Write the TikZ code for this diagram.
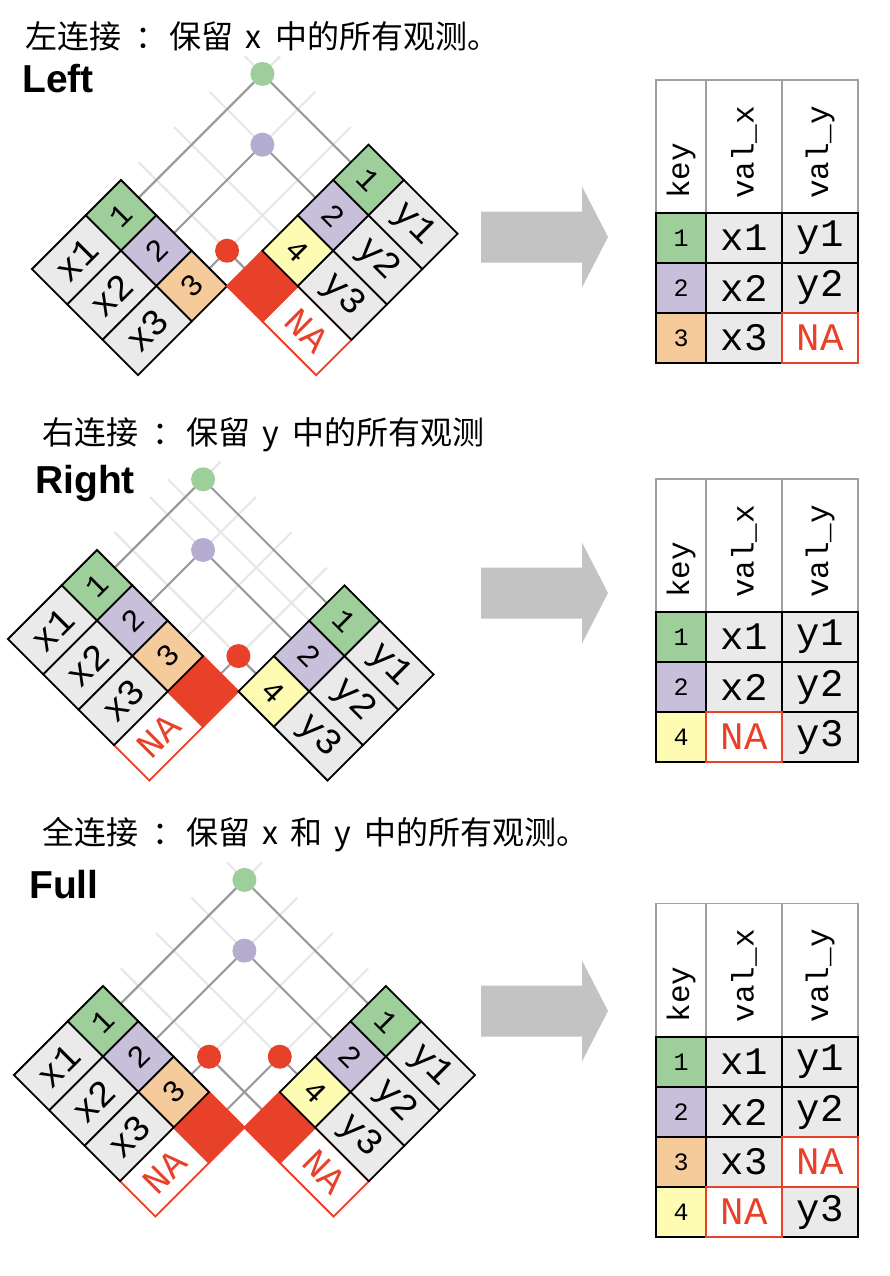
\documentclass[tikz,border=0pt]{standalone}
\usepackage{fontspec}
\newfontfamily\monof{Liberation Mono}
\newfontfamily\cjkf{Noto Sans CJK SC}
\newfontfamily\helv{Liberation Sans}
\usetikzlibrary{calc}
\pgfdeclarelayer{background}
\pgfdeclarelayer{bottom}
\pgfsetlayers{bottom,background,main}
\definecolor{cgreen}{HTML}{9ECE9A}
\definecolor{cpurple}{HTML}{C8BFDB}
\definecolor{dpurple}{HTML}{B5ADD0}
\definecolor{corange}{HTML}{F6CB9B}
\definecolor{cyellow}{HTML}{FEFBB3}
\definecolor{cred}{HTML}{E8412A}
\definecolor{cgray}{HTML}{EAEAEA}
\definecolor{linedark}{HTML}{999999}
\definecolor{linelight}{HTML}{E6E6E6}
\definecolor{arrowgray}{HTML}{C3C3C3}
\definecolor{headgray}{HTML}{A0A0A0}
\tikzset{
  dcell/.style={draw=black, line width=1.8pt, minimum height=50pt, inner sep=0pt, outer sep=0pt},
  xk/.style={dcell, rotate=45, minimum width=50pt, font=\monof\fontsize{31}{31}\selectfont},
  xv/.style={dcell, rotate=45, minimum width=76pt, fill=cgray, font=\monof\fontsize{37}{37}\selectfont},
  yk/.style={dcell, rotate=-45, minimum width=50pt, font=\monof\fontsize{31}{31}\selectfont},
  yv/.style={dcell, rotate=-45, minimum width=76pt, fill=cgray, font=\monof\fontsize{37}{37}\selectfont},
  nakey/.style={fill=cred, draw=cred},
  naval/.style={fill=white, draw=cred, text=cred},
  jdot/.style={circle, inner sep=0pt, outer sep=0pt, minimum size=24pt},
  gline/.style={draw=linelight, line width=2pt},
  mline/.style={draw=linedark, line width=2pt},
  tk/.style={dcell, minimum width=50pt, font=\monof\fontsize{25}{25}\selectfont},
  tv/.style={dcell, minimum width=76pt, fill=cgray, font=\monof\fontsize{39}{39}\selectfont},
  th/.style={draw=headgray, line width=1.5pt, fill=white, minimum height=133pt, inner sep=0pt, outer sep=0pt},
  htext/.style={rotate=90, anchor=west, inner sep=0pt, font=\monof\fontsize{31}{31}\selectfont},
  ttl/.style={anchor=base west, inner sep=0pt, font=\cjkf\fontsize{32}{32}\selectfont},
  lbl/.style={anchor=base west, inner sep=0pt, font=\helv\bfseries\fontsize{39}{39}\selectfont},
  diag/.style={x={(35.355pt,-35.355pt)}, y={(-35.355pt,-35.355pt)}}
}
\newcommand\jarrow[1]{\fill[arrowgray] (481,#1-25.5) -- (582,#1-25.5) -- (582,#1-50.5) -- (608,#1) -- (582,#1+50.5) -- (582,#1+25.5) -- (481,#1+25.5) -- cycle;}
\newcommand\jhead[2]{%
  \node[th,minimum width=50pt] (#1h0) at (681,#2) {};
  \node[th,minimum width=76pt] (#1h1) at (744,#2) {};
  \node[th,minimum width=76pt] (#1h2) at (820,#2) {};
  \node[htext] (#1t0) at ($(#1h0.south)+(0,-14)$) {key};
  \node[htext] (#1t1) at ($(#1h1.south)+(0,-14)$) {val\_x};
  \node[htext] (#1t2) at ($(#1h2.south)+(0,-14)$) {val\_y};
}
\begin{document}
\begin{tikzpicture}[x=1pt,y=-1pt]
\useasboundingbox (0,0) rectangle (890,1276);
\begin{pgfonlayer}{bottom}
  \fill[white] (0,0) rectangle (890,1276);
\end{pgfonlayer}

% ---------- titles ----------
\node[ttl] (title1) at (25,49) {左连接\hspace{14pt}：\hspace{2pt}保留\hspace{12pt}x\hspace{14pt}中的所有观测。};
\node[lbl] (lab1) at (22,93) {Left};
\node[ttl] (title2) at (42,444) {右连接\hspace{14pt}：\hspace{2pt}保留\hspace{12pt}y\hspace{14pt}中的所有观测};
\node[lbl] (lab2) at (35,493) {Right};
\node[ttl] (title3) at (42,844) {全连接\hspace{14pt}：\hspace{2pt}保留\hspace{12pt}x\hspace{12pt}和\hspace{12pt}y\hspace{14pt}中的所有观测。};
\node[lbl] (lab3) at (29,898) {Full};

% ---------- arrows ----------
\jarrow{237}
\jarrow{593}
\jarrow{1011}

% ---------- LEFT panel ----------
\begin{scope}[shift={(121,180)},diag]
  \node[xk,fill=cgreen] (Lxk0) at (0.5,0.5) {1};
  \node[xv] (Lxv0) at (0.5,1.76) {x1};
  \node[xk,fill=cpurple] (Lxk1) at (1.5,0.5) {2};
  \node[xv] (Lxv1) at (1.5,1.76) {x2};
  \node[xk,fill=corange] (Lxk2) at (2.5,0.5) {3};
  \node[xv] (Lxv2) at (2.5,1.76) {x3};
  \node[yv,naval] (Lyv3) at (4.76,-0.5) {NA};
  \node[yk,nakey] (Lyk3) at (3.5,-0.5) {};
  \node[yk,fill=cgreen] (Lyk0) at (3.5,-3.5) {1};
  \node[yv] (Lyv0) at (4.76,-3.5) {y1};
  \node[yk,fill=cpurple] (Lyk1) at (3.5,-2.5) {2};
  \node[yv] (Lyv1) at (4.76,-2.5) {y2};
  \node[yk,fill=cyellow] (Lyk2) at (3.5,-1.5) {4};
  \node[yv] (Lyv2) at (4.76,-1.5) {y3};
  \node[jdot,fill=cgreen] (Ld0) at (0.5,-3.5) {};
  \node[jdot,fill=dpurple] (Ld1) at (1.5,-2.5) {};
  \node[jdot,fill=cred] (Ld2) at (2.5,-0.5) {};
  \begin{pgfonlayer}{background}
    \foreach \i in {0,1,2} {\coordinate (Lxe\i) at (\i+0.5,-4); \draw[gline] (Lxk\i.east) -- (Lxe\i);}
    \foreach \j in {0,1,2,3} {\coordinate (Lye\j) at (0,\j-3.5); \draw[gline] (Lyk\j.west) -- (Lye\j);}
    \draw[mline] (Lxk0.east) -- (Ld0) -- (Lyk0.west);
    \draw[mline] (Lxk1.east) -- (Ld1) -- (Lyk1.west);
    \draw[mline] (Lxk2.east) -- (Ld2) -- (Lyk3.west);
  \end{pgfonlayer}
\end{scope}

% ---------- RIGHT panel ----------
\begin{scope}[shift={(97,550)},diag]
  \node[xv,naval] (Rxv3) at (3.5,1.76) {NA};
  \node[xk,nakey] (Rxk3) at (3.5,0.5) {};
  \node[xk,fill=cgreen] (Rxk0) at (0.5,0.5) {1};
  \node[xv] (Rxv0) at (0.5,1.76) {x1};
  \node[xk,fill=cpurple] (Rxk1) at (1.5,0.5) {2};
  \node[xv] (Rxv1) at (1.5,1.76) {x2};
  \node[xk,fill=corange] (Rxk2) at (2.5,0.5) {3};
  \node[xv] (Rxv2) at (2.5,1.76) {x3};
  \node[yk,fill=cgreen] (Ryk0) at (4.5,-2.5) {1};
  \node[yv] (Ryv0) at (5.76,-2.5) {y1};
  \node[yk,fill=cpurple] (Ryk1) at (4.5,-1.5) {2};
  \node[yv] (Ryv1) at (5.76,-1.5) {y2};
  \node[yk,fill=cyellow] (Ryk2) at (4.5,-0.5) {4};
  \node[yv] (Ryv2) at (5.76,-0.5) {y3};
  \node[jdot,fill=cgreen] (Rd0) at (0.5,-2.5) {};
  \node[jdot,fill=dpurple] (Rd1) at (1.5,-1.5) {};
  \node[jdot,fill=cred] (Rd2) at (3.5,-0.5) {};
  \begin{pgfonlayer}{background}
    \foreach \i in {0,1,2,3} {\coordinate (Rxe\i) at (\i+0.5,-3); \draw[gline] (Rxk\i.east) -- (Rxe\i);}
    \coordinate (Rye0) at (0,-2); \draw[gline] (Ryk0.south west) -- (Rye0);
    \coordinate (Rye1) at (0,-1.5); \draw[gline] (Ryk1.west) -- (Rye1);
    \coordinate (Rye2) at (0,-0.5); \draw[gline] (Ryk2.west) -- (Rye2);
    \draw[mline] (Rxk0.east) -- (Rd0) -- (Ryk0.west);
    \draw[mline] (Rxk1.east) -- (Rd1) -- (Ryk1.west);
    \draw[mline] (Rxk3.east) -- (Rd2) -- (Ryk2.west);
  \end{pgfonlayer}
\end{scope}

% ---------- FULL panel ----------
\begin{scope}[shift={(103,986)},diag]
  \node[xv,naval] (Fxv3) at (3.5,1.76) {NA};
  \node[xk,nakey] (Fxk3) at (3.5,0.5) {};
  \node[yv,naval] (Fyv3) at (5.76,-0.5) {NA};
  \node[yk,nakey] (Fyk3) at (4.5,-0.5) {};
  \node[xk,fill=cgreen] (Fxk0) at (0.5,0.5) {1};
  \node[xv] (Fxv0) at (0.5,1.76) {x1};
  \node[xk,fill=cpurple] (Fxk1) at (1.5,0.5) {2};
  \node[xv] (Fxv1) at (1.5,1.76) {x2};
  \node[xk,fill=corange] (Fxk2) at (2.5,0.5) {3};
  \node[xv] (Fxv2) at (2.5,1.76) {x3};
  \node[yk,fill=cgreen] (Fyk0) at (4.5,-3.5) {1};
  \node[yv] (Fyv0) at (5.76,-3.5) {y1};
  \node[yk,fill=cpurple] (Fyk1) at (4.5,-2.5) {2};
  \node[yv] (Fyv1) at (5.76,-2.5) {y2};
  \node[yk,fill=cyellow] (Fyk2) at (4.5,-1.5) {4};
  \node[yv] (Fyv2) at (5.76,-1.5) {y3};
  \node[jdot,fill=cgreen] (Fd0) at (0.5,-3.5) {};
  \node[jdot,fill=dpurple] (Fd1) at (1.5,-2.5) {};
  \node[jdot,fill=cred] (Fd2) at (2.5,-0.5) {};
  \node[jdot,fill=cred] (Fd3) at (3.5,-1.5) {};
  \begin{pgfonlayer}{background}
    \foreach \i in {0,1,2,3} {\coordinate (Fxe\i) at (\i+0.5,-4); \draw[gline] (Fxk\i.east) -- (Fxe\i);}
    \foreach \j in {0,1,2,3} {\coordinate (Fye\j) at (0,\j-3.5); \draw[gline] (Fyk\j.west) -- (Fye\j);}
    \draw[mline] (Fxk0.east) -- (Fd0) -- (Fyk0.west);
    \draw[mline] (Fxk1.east) -- (Fd1) -- (Fyk1.west);
    \draw[mline] (Fxk2.east) -- (Fd2) -- (Fyk3.west);
    \draw[mline] (Fxk3.east) -- (Fd3) -- (Fyk2.west);
  \end{pgfonlayer}
\end{scope}

% ---------- result tables ----------
\jhead{A}{146.5}
\node[tk,fill=cgreen] (Ak0) at (681,238) {1};
\node[tv] (Ax0) at (744,238) {x1};
\node[tv] (Ay0) at (820,238) {y1};
\node[tk,fill=cpurple] (Ak1) at (681,288) {2};
\node[tv] (Ax1) at (744,288) {x2};
\node[tv] (Ay1) at (820,288) {y2};
\node[tk,fill=corange] (Ak2) at (681,338) {3};
\node[tv] (Ax2) at (744,338) {x3};
\node[tv,naval] (Ay2) at (820,338) {NA};

\jhead{B}{545.5}
\node[tk,fill=cgreen] (Bk0) at (681,637) {1};
\node[tv] (Bx0) at (744,637) {x1};
\node[tv] (By0) at (820,637) {y1};
\node[tk,fill=cpurple] (Bk1) at (681,687) {2};
\node[tv] (Bx1) at (744,687) {x2};
\node[tv] (By1) at (820,687) {y2};
\node[tk,fill=cyellow] (Bk2) at (681,737) {4};
\node[tv] (By2) at (820,737) {y3};
\node[tv,naval] (Bx2) at (744,737) {NA};

\jhead{C}{970}
\node[tk,fill=cgreen] (Ck0) at (681,1062) {1};
\node[tv] (Cx0) at (744,1062) {x1};
\node[tv] (Cy0) at (820,1062) {y1};
\node[tk,fill=cpurple] (Ck1) at (681,1112) {2};
\node[tv] (Cx1) at (744,1112) {x2};
\node[tv] (Cy1) at (820,1112) {y2};
\node[tk,fill=corange] (Ck2) at (681,1162) {3};
\node[tv] (Cx2) at (744,1162) {x3};
\node[tk,fill=cyellow] (Ck3) at (681,1212) {4};
\node[tv] (Cy3) at (820,1212) {y3};
\node[tv,naval] (Cy2) at (820,1162) {NA};
\node[tv,naval] (Cx3) at (744,1212) {NA};
\end{tikzpicture}
\end{document}
